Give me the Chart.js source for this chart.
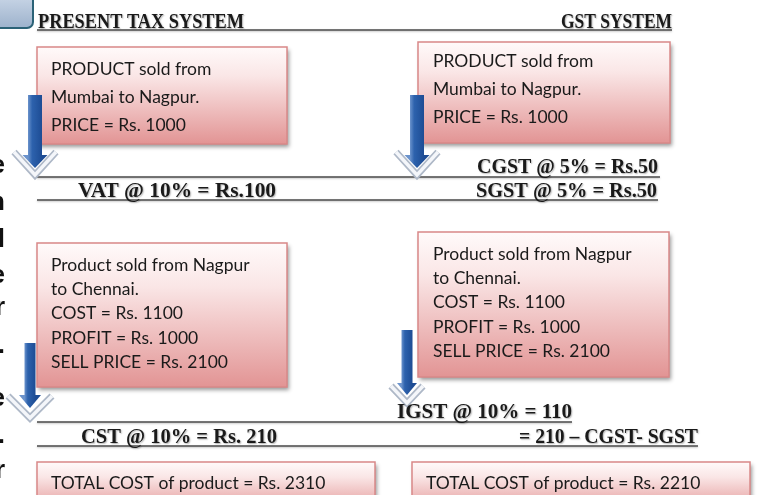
<!DOCTYPE html>
<html>
<head>
<meta charset="utf-8">
<script src="https://cdn.jsdelivr.net/npm/chart.js@4/dist/chart.umd.min.js"></script>
<style>
  html, body { margin: 0; padding: 0; background: #fff; overflow: hidden; }
  canvas { display: block; }
</style>
</head>
<body>
<canvas id="diagram" width="758" height="495"></canvas>
<script>
// Present tax vs GST — worked example, drawn on a blank Chart.js scatter canvas

// ---- content ----
const headings = ['PRESENT TAX SYSTEM', 'GST SYSTEM'];
const firstSale = ['PRODUCT sold from', 'Mumbai to Nagpur.', 'PRICE = Rs. 1000'];
const secondSale = ['Product sold from Nagpur', 'to Chennai.', 'COST = Rs. 1100', 'PROFIT = Rs. 1000', 'SELL PRICE = Rs. 2100'];
const presentTaxes = ['VAT @ 10% = Rs.100', 'CST @ 10% = Rs. 210'];
const gstTaxes = ['CGST @ 5% = Rs.50', 'SGST @ 5% = Rs.50', 'IGST @ 10% = 110', '= 210 \u2013 CGST- SGST'];
const totals = ['TOTAL COST of product = Rs. 2310', 'TOTAL COST of product = Rs. 2210'];
const edgeLetters = ['e', 'n', 'l', 'e', 'r', '.', 'e', '.', 'r'];

// ---- layout (in scale units, 0..758 by 0..495) ----
const boxLayout = [
    { lines: firstSale,  x: 37,  y: 47,  w: 250, h: 97,  tx: 51,  base: [75, 103, 131] },
    { lines: firstSale,  x: 418, y: 42,  w: 252, h: 101, tx: 433, base: [67, 95, 123] },
    { lines: secondSale, x: 37,  y: 243, w: 250, h: 144, tx: 51,  base: [271, 295, 319, 344, 368] },
    { lines: secondSale, x: 418, y: 232, w: 251, h: 145, tx: 433, base: [260, 284, 308, 333, 357] },
    { lines: [totals[0]], x: 37,  y: 462, w: 338, h: 50, tx: 51,  base: [489] },
    { lines: [totals[1]], x: 412, y: 462, w: 338, h: 50, tx: 426, base: [489] }
];

const ruleLayout = [
    { y: 30,  x0: 37, x1: 672 },
    { y: 177, x0: 37, x1: 660 },
    { y: 200, x0: 37, x1: 658 },
    { y: 422, x0: 37, x1: 572 },
    { y: 446, x0: 37, x1: 698 }
];

// serif labels: anchor x, baseline, target width, alignment
const labelLayout = [
    { text: headings[0],     x: 38,  y: 28,  w: 206, align: 'left' },
    { text: headings[1],     x: 672, y: 28,  w: 111, align: 'right' },
    { text: presentTaxes[0], x: 78,  y: 197, w: 198, align: 'left' },
    { text: gstTaxes[0],     x: 658, y: 173, w: 181, align: 'right' },
    { text: gstTaxes[1],     x: 657, y: 197, w: 181, align: 'right' },
    { text: gstTaxes[2],     x: 397, y: 418, w: 175, align: 'left' },
    { text: presentTaxes[1], x: 81,  y: 443, w: 196, align: 'left' },
    { text: gstTaxes[3],     x: 698, y: 443, w: 179, align: 'right' }
];

const arrowLayout = [
    { cx: 35,  sw: 7,   hw: 12.5, top: 95,  headY: 155, tip: 168, arm: 21, armY0: 152, armY1: 175 },
    { cx: 417, sw: 7,   hw: 12.5, top: 95,  headY: 155, tip: 168, arm: 21, armY0: 152, armY1: 175 },
    { cx: 30,  sw: 5.5, hw: 11,   top: 343, headY: 395, tip: 408, arm: 22, armY0: 396, armY1: 418 },
    { cx: 407, sw: 5.5, hw: 10,   top: 330, headY: 383, tip: 395, arm: 16, armY0: 386, armY1: 403 }
];

const edgeBaselines = [173, 210, 247, 283, 315, 353, 406, 443, 478];

const SANS = '17.5px Lato, "Open Sans", sans-serif';
const SERIF = 'bold 21px "Liberation Serif", "DejaVu Serif", serif';

const diagramPlugin = {
    id: 'taxDiagram',
    afterDraw(chart) {
        const ctx = chart.ctx;
        const X = v => chart.scales.x.getPixelForValue(v);
        const Y = v => chart.scales.y.getPixelForValue(v);

        // corner tab
        ctx.save();
        const tg = ctx.createLinearGradient(0, Y(0), 0, Y(28));
        tg.addColorStop(0, '#c3d1e3');
        tg.addColorStop(1, '#9db2cc');
        ctx.fillStyle = tg;
        ctx.strokeStyle = '#2b6277';
        ctx.lineWidth = 2;
        ctx.beginPath();
        ctx.roundRect(X(-10), Y(-10), X(33) - X(-10), Y(28) - Y(-10), 6);
        ctx.fill();
        ctx.stroke();
        ctx.restore();

        // cut-off slide letters on the left edge
        ctx.save();
        ctx.fillStyle = '#111';
        ctx.font = 'bold 26px "Liberation Sans", Arial, sans-serif';
        ctx.textAlign = 'right';
        edgeLetters.forEach((ch, i) => ctx.fillText(ch, X(5), Y(edgeBaselines[i])));
        ctx.restore();

        // horizontal rules
        ruleLayout.forEach(r => {
            ctx.save();
            ctx.strokeStyle = '#4a4a4a';
            ctx.lineWidth = 1.6;
            ctx.shadowColor = 'rgba(0,0,0,0.25)';
            ctx.shadowBlur = 2;
            ctx.shadowOffsetY = 1;
            ctx.beginPath();
            ctx.moveTo(X(r.x0), Y(r.y));
            ctx.lineTo(X(r.x1), Y(r.y));
            ctx.stroke();
            ctx.restore();
        });

        // pink boxes
        boxLayout.forEach(b => {
            const x = X(b.x), y = Y(b.y), w = X(b.x + b.w) - x, h = Y(b.y + b.h) - y;
            ctx.save();
            ctx.shadowColor = 'rgba(0,0,0,0.4)';
            ctx.shadowBlur = 4;
            ctx.shadowOffsetX = 2;
            ctx.shadowOffsetY = 3;
            const g = ctx.createLinearGradient(0, y, 0, y + h);
            g.addColorStop(0, '#fffafa');
            g.addColorStop(0.3, '#fae6e6');
            g.addColorStop(1, '#e29494');
            ctx.fillStyle = g;
            ctx.fillRect(x, y, w, h);
            ctx.restore();
            ctx.save();
            ctx.strokeStyle = '#d98888';
            ctx.lineWidth = 1.5;
            ctx.strokeRect(x, y, w, h);
            ctx.fillStyle = '#1a1a1a';
            ctx.font = SANS;
            b.lines.forEach((t, i) => ctx.fillText(t, X(b.tx), Y(b.base[i])));
            ctx.restore();
        });

        // arrows
        arrowLayout.forEach(a => {
            const cx = X(a.cx);
            ctx.save();
            // pale chevron behind the head
            ctx.lineJoin = 'miter';
            ctx.strokeStyle = '#aeb8c7';
            ctx.lineWidth = 7;
            ctx.beginPath();
            ctx.moveTo(X(a.cx - a.arm), Y(a.armY0));
            ctx.lineTo(cx, Y(a.armY1));
            ctx.lineTo(X(a.cx + a.arm), Y(a.armY0));
            ctx.stroke();
            ctx.strokeStyle = '#f4f6fa';
            ctx.lineWidth = 3.5;
            ctx.stroke();
            // blue shaft and head
            const bg = ctx.createLinearGradient(X(a.cx - a.sw), 0, X(a.cx + a.sw), 0);
            bg.addColorStop(0, '#6b93cc');
            bg.addColorStop(0.3, '#2d62ad');
            bg.addColorStop(1, '#1d4c94');
            ctx.fillStyle = bg;
            ctx.fillRect(X(a.cx - a.sw), Y(a.top), X(a.cx + a.sw) - X(a.cx - a.sw), Y(a.headY) - Y(a.top));
            ctx.beginPath();
            ctx.moveTo(X(a.cx - a.hw), Y(a.headY));
            ctx.lineTo(X(a.cx + a.hw), Y(a.headY));
            ctx.lineTo(cx, Y(a.tip));
            ctx.closePath();
            ctx.fill();
            ctx.restore();
        });

        // bold serif tax labels, fitted to their measured widths
        labelLayout.forEach(l => {
            ctx.save();
            ctx.font = SERIF;
            ctx.fillStyle = '#1a1a1a';
            ctx.shadowColor = 'rgba(0,0,0,0.3)';
            ctx.shadowBlur = 1.5;
            ctx.shadowOffsetX = 1;
            ctx.shadowOffsetY = 1;
            const mw = ctx.measureText(l.text).width;
            const sx = l.w / mw;
            const left = l.align === 'right' ? X(l.x) - l.w : X(l.x);
            ctx.translate(left, Y(l.y));
            ctx.scale(sx, 1);
            ctx.fillText(l.text, 0, 0);
            ctx.restore();
        });
    }
};

new Chart(document.getElementById('diagram'), {
    type: 'scatter',
    data: { datasets: [{ data: [], pointRadius: 0 }] },
    options: {
        responsive: false,
        animation: false,
        devicePixelRatio: 1,
        layout: { padding: 0 },
        plugins: { legend: { display: false }, tooltip: { enabled: false } },
        scales: {
            x: { type: 'linear', min: 0, max: 758, display: false },
            y: { type: 'linear', min: 0, max: 495, reverse: true, display: false }
        }
    },
    plugins: [diagramPlugin]
});
</script>
</body>
</html>
